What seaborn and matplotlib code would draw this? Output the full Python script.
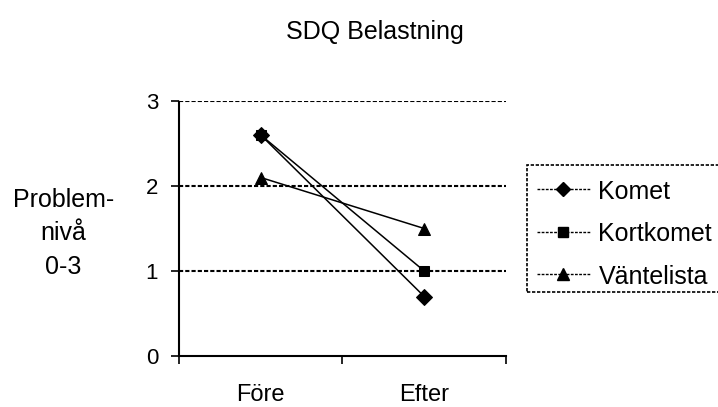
import matplotlib
matplotlib.use("Agg")
import matplotlib.pyplot as plt
import matplotlib.patches as mpatches
import seaborn as sns
import pandas as pd
from matplotlib.lines import Line2D

categories = ["Före", "Efter"]
series_names = ["Komet", "Kortkomet", "Väntelista"]
komet = [2.6, 0.7]
kortkomet = [2.6, 1.0]
vantelista = [2.1, 1.5]
markers = {"Komet": "D", "Kortkomet": "s", "Väntelista": "^"}
msizes = {"Komet": 8, "Kortkomet": 7.5, "Väntelista": 9}

rows = []
for name, vals in zip(series_names, [komet, kortkomet, vantelista]):
    for c, v in zip(categories, vals):
        rows.append({"Tid": c, "Värde": v, "Grupp": name})
df = pd.DataFrame(rows)

sns.set_theme(style="white")
plt.rcParams["font.family"] = ["Liberation Sans", "DejaVu Sans"]
plt.rcParams["text.color"] = "black"
plt.rcParams["xtick.labelcolor"] = "black"
plt.rcParams["ytick.labelcolor"] = "black"
plt.rcParams["xtick.color"] = "black"
plt.rcParams["ytick.color"] = "black"

fig = plt.figure(figsize=(7.18, 4.07), dpi=100)
ax = fig.add_axes([0.2493, 0.1253, 0.4554, 0.6265])

for name in series_names:
    sub = df[df["Grupp"] == name]
    sns.lineplot(data=sub, x="Tid", y="Värde", ax=ax, color="black", lw=1.1,
                 marker=markers[name], markersize=msizes[name],
                 markeredgecolor="black", markerfacecolor="black", legend=False, sort=False)

dot = (0, (2, 1))
ax.set_xlim(-0.5, 1.5)
ax.set_ylim(0, 3)
ax.set_yticks([0, 1, 2, 3])
ax.set_xticks([0, 1])
ax.set_xticklabels(categories)
ax.set_xticks([-0.5, 0.5, 1.5], minor=True)
ax.tick_params(axis="x", which="major", length=0, pad=20, labelsize=17, labelcolor="black")
ax.tick_params(axis="x", which="minor", length=6, width=1.2, direction="out", color="black", bottom=True)
ax.tick_params(axis="y", length=6, width=1.2, direction="out", color="black", left=True, labelsize=16,
               pad=9, labelcolor="black")
for v in [1, 2, 3]:
    ax.axhline(v, color="black", lw=1.5, ls=dot, zorder=0)
for s in ["top", "right"]:
    ax.spines[s].set_visible(False)
for s in ["left", "bottom"]:
    ax.spines[s].set_visible(True)
    ax.spines[s].set_color("black")
    ax.spines[s].set_linewidth(1.5)
    ax.spines[s].set_linestyle(dot)
ax.set_xlabel("")
ax.set_ylabel("")
ax.grid(False)

fig.text(0.088, 0.4275, "Problem-\nnivå\n0-3", ha="center", va="center", fontsize=18, linespacing=1.5,
         color="black")
fig.text(0.522, 1 - 39 / 407, "SDQ Belastning", ha="center", va="baseline", fontsize=18, color="black")

handles = [Line2D([], [], color="black", lw=1.0, ls=(0, (2, 1)), marker=markers[n],
                  markersize=msizes[n] - 0.5, markerfacecolor="black", markeredgecolor="black")
           for n in series_names]
leg = fig.legend(handles, series_names, loc="upper left", bbox_to_anchor=(537 / 718, 1 - 179.5 / 407),
                 frameon=False, fontsize=18, handlelength=2.1, handleheight=1.0,
                 borderpad=0.0, labelspacing=0.7, handletextpad=0.36, borderaxespad=0,
                 labelcolor="black")

frame = mpatches.Rectangle((527 / 718, 1 - 292 / 407), (725 - 527) / 718, 127 / 407,
                           transform=fig.transFigure, fill=False, edgecolor="black",
                           lw=1.2, ls=(0, (2, 1)))
fig.add_artist(frame)

fig.savefig("out.png", dpi=100)
